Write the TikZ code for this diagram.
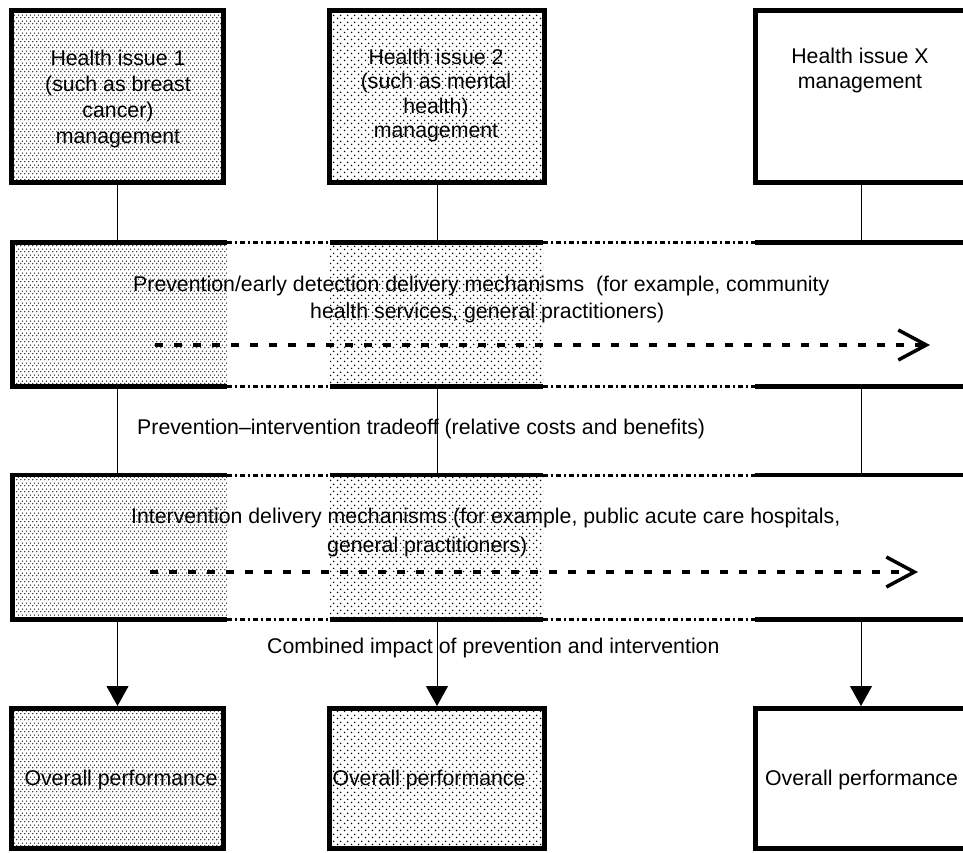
\documentclass[tikz,border=0pt]{standalone}
\usepackage{fontspec}
\setmainfont{Liberation Sans}
\usetikzlibrary{arrows.meta,patterns}
\pgfdeclarepatternformonly{densedots}{\pgfqpoint{0pt}{0pt}}{\pgfqpoint{4pt}{6pt}}{\pgfqpoint{4pt}{6pt}}{%
  \pgfpathcircle{\pgfqpoint{1pt}{1.5pt}}{0.8pt}%
  \pgfpathcircle{\pgfqpoint{3pt}{4.5pt}}{0.8pt}%
  \pgfusepath{fill}}
\pgfdeclarepatternformonly{sparsedots}{\pgfqpoint{0pt}{0pt}}{\pgfqpoint{7pt}{7pt}}{\pgfqpoint{7pt}{7pt}}{%
  \pgfpathcircle{\pgfqpoint{1.75pt}{1.75pt}}{0.9pt}%
  \pgfpathcircle{\pgfqpoint{5.25pt}{5.25pt}}{0.9pt}%
  \pgfusepath{fill}}
\begin{document}
\begin{tikzpicture}[x=1pt,y=-1pt,
  txt/.style={font=\fontsize{21.3pt}{24.5pt}\selectfont, inner sep=0pt, align=center},
  box/.style={draw, line width=5pt, inner sep=0pt},
  bandline/.style={line width=4.5pt},
  gapline/.style={line width=3pt, dash pattern=on 5pt off 3pt on 2pt off 3pt},
  conn/.style={line width=1pt},
  flow/.style={line width=3.5pt, dash pattern=on 8pt off 11pt, -{Straight Barb[length=28pt,width=30pt]}},
  bandtext/.style={txt, anchor=west, text height=15.5pt, text depth=4.5pt},
  bandarea/.style={inner sep=0pt, outer sep=0pt, minimum width=950.5pt},
]
\path[use as bounding box, clip] (0,0) rectangle (963,853);

% top boxes
\node[box, pattern=densedots, minimum width=212pt, minimum height=172pt] (t1) at (117.5,96.5) {};
\node[box, pattern=sparsedots, minimum width=215pt, minimum height=172pt] (t2) at (437,96.5) {};
\node[box, minimum width=211pt, minimum height=172pt] (t3) at (861,96.5) {};
\node[txt, font=\fontsize{21.3pt}{26pt}\selectfont] (t1txt) at (118,99) {Health issue 1\\(such as breast\\cancer)\\management};
\node[txt] (t2txt) at (436,95.5) {Health issue 2\\(such as mental\\health)\\management};
\node[txt] (t3txt) at (860,70.5) {Health issue X\\management};

% bottom boxes
\node[box, pattern=densedots, minimum width=212pt, minimum height=140pt] (b1) at (117.5,778.5) {};
\node[box, pattern=sparsedots, minimum width=215pt, minimum height=140pt] (b2) at (437,778.5) {};
\node[box, minimum width=211pt, minimum height=140pt] (b3) at (861,778.5) {};
\node[txt] (b1txt) at (121,780) {Overall performance};
\node[txt] (b2txt) at (429,780) {Overall performance};
\node[txt] (b3txt) at (861.5,780) {Overall performance};

% band areas
\node[bandarea, minimum height=144pt] (band1) at (487.75,314.5) {};
\node[bandarea, minimum height=144.5pt] (band2) at (487.75,547.25) {};

% band fills
\fill[pattern=densedots] (12.5,242.5) rectangle (227,386.5);
\fill[pattern=sparsedots] (330,242.5) rectangle (543,386.5);
\fill[pattern=densedots] (12.5,475) rectangle (227,619.5);
\fill[pattern=sparsedots] (330,475) rectangle (543,619.5);

% band texts
\node[bandtext] (p1) at (133,286) {Prevention/early detection delivery mechanisms~~(for example, community};
\node[bandtext] (p2) at (310,313) {health services, general practitioners)};
\node[bandtext] (i1) at (131,518) {Intervention delivery mechanisms (for example, public acute care hospitals,};
\node[bandtext] (i2) at (327,547) {general practitioners)};

% flow arrows
\coordinate (f1s) at (155,345);
\coordinate (f1e) at (930,345);
\coordinate (f2s) at (150,572);
\coordinate (f2e) at (918,572);
\draw[flow] (f1s) -- (f1e);
\draw[flow] (f2s) -- (f2e);

% band borders
\foreach \ya/\yb in {242.5/386.5, 475/619.5} {
  \draw[bandline, line join=miter] (227,\ya) -- (12.5,\ya) -- (12.5,\yb) -- (227,\yb);
  \foreach \y in {\ya,\yb} {
    \draw[gapline] (227,\y) -- (330,\y);
    \draw[bandline] (330,\y) -- (543,\y);
    \draw[gapline] (543,\y) -- (755,\y);
    \draw[bandline] (755,\y) -- (963,\y);
  }
}

% middle texts
\node[bandtext] (trade) at (137,429) {Prevention–intervention tradeoff (relative costs and benefits)};
\node[bandtext] (comb) at (267,648) {Combined impact of prevention and intervention};

% connectors
\foreach \k in {1,2,3} {
  \draw[conn] (t\k.south) -- (t\k.south |- band1.north);
  \draw[conn] (t\k.south |- band1.south) -- (t\k.south |- band2.north);
  \draw[conn, -{Triangle[length=20pt,width=22pt]}] (t\k.south |- band2.south) -- (b\k.north);
}
\end{tikzpicture}
\end{document}
